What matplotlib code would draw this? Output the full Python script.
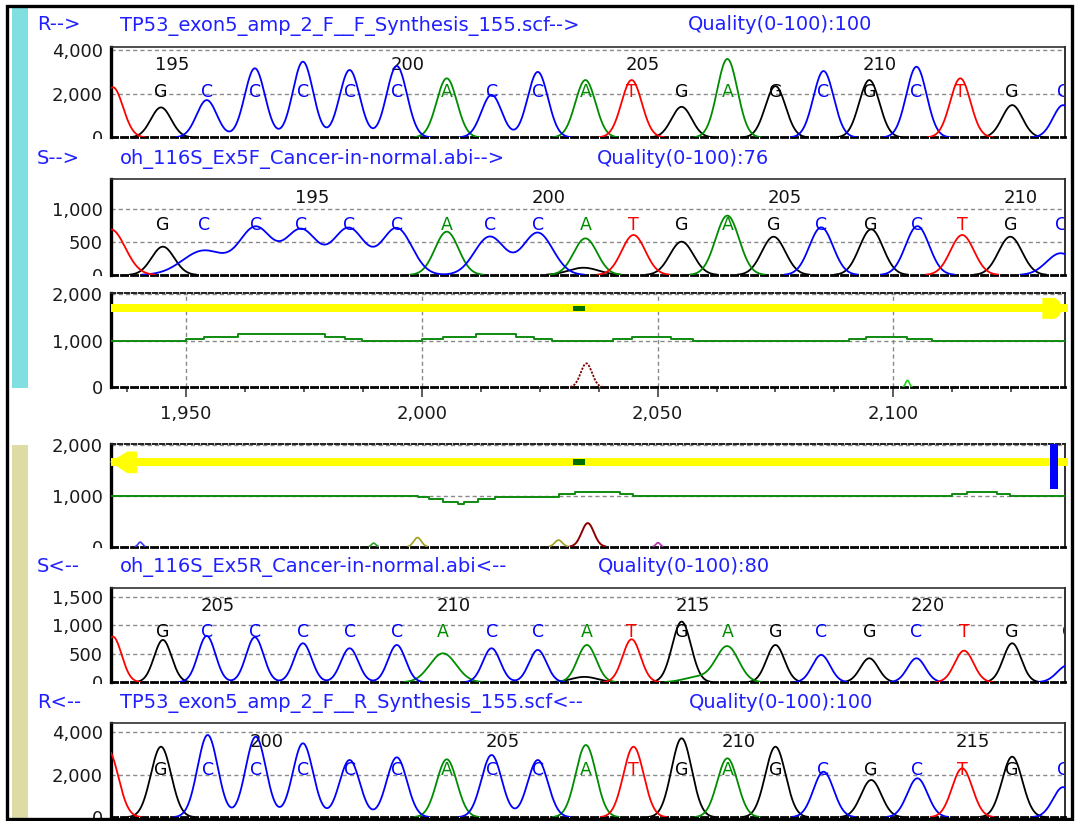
import numpy as np
import matplotlib
matplotlib.use('Agg')
import matplotlib.pyplot as plt
from matplotlib.patches import Polygon, Rectangle
from matplotlib.transforms import Bbox, TransformedBbox
from matplotlib.ticker import FuncFormatter

plt.rcParams['font.family'] = ['DejaVu Sans']

# ---------------- data ----------------
scan_range = (1934.1, 2136.4)
bases = "TGCCCCCACCATGAGCGCTGC"

# panel 1 : R--> reference forward
p1_pos = [1934.5, 1944.7, 1954.4, 1964.6, 1974.8, 1984.7, 1994.7, 2005.3, 2014.8, 2024.6, 2034.7,
          2044.5, 2055.1, 2064.8, 2075.0, 2085.2, 2094.9, 2104.9, 2114.2, 2125.2, 2136.0]
p1_hgt = [2300, 1376, 1711, 3165, 3468, 3087, 3271, 2706, 1950, 3000, 2628,
          2628, 1404, 3592, 2350, 3041, 2628, 3238, 2706, 1482, 1480]
p1_wid = [2.15] * 21
p1_first = 194

# panel 2 : S--> sample forward
p2_pos = [1934.1, 1945.1, 1953.8, 1964.8, 1974.4, 1984.5, 1994.7, 2005.3, 2014.4, 2024.6, 2034.7,
          2044.9, 2055.1, 2064.8, 2074.6, 2084.7, 2095.3, 2105.1, 2114.6, 2124.8, 2135.5]
p2_hgt = [690, 429, 370, 707, 682, 707, 707, 657, 580, 640, 555,
          606, 505, 900, 580, 722, 692, 740, 606, 580, 330]
p2_wid = [3.0, 2.4, 4.5, 3.4, 3.4, 3.4, 3.2, 2.5, 3.2, 3.2, 2.5,
          2.5, 2.5, 2.5, 2.5, 2.5, 2.5, 2.5, 2.5, 2.5, 3.0]
p2_extra = [('G', 2034.3, 110, 3.2)]
p2_first = 191

# panel 3 : forward alignment
p3_green_x = [1934.1, 1950.0, 1953.8, 1961.1, 1979.4, 1983.8, 1987.4, 2000.0, 2004.5, 2011.5, 2019.9,
              2023.9, 2027.7, 2040.5, 2044.5, 2052.8, 2057.5, 2090.6, 2094.3, 2103.0, 2108.1]
p3_green_y = [1000, 1036, 1085, 1135, 1085, 1036, 1000, 1036, 1085, 1135, 1085,
              1036, 1000, 1036, 1085, 1036, 1000, 1036, 1085, 1036, 1000]
p3_arrow_y = 1692
p3_mark_x = 2033.4
p3_diff_pos, p3_diff_hgt, p3_diff_wid = 2034.9, 513, 1.2
p3_small_pos, p3_small_hgt, p3_small_wid = 2103.0, 150, 0.4

# panel 4 : reverse alignment
p4_green_x = [1934.1, 1999.1, 2001.5, 2004.5, 2007.6, 2009.0, 2011.9, 2015.5, 2029.2, 2032.5,
              2042.0, 2044.8, 2112.4, 2115.7, 2121.9, 2124.8]
p4_green_y = [1000, 970, 935, 885, 845, 885, 935, 970, 1045, 1075,
              1045, 1000, 1045, 1075, 1045, 1000]
p4_arrow_y = 1667
p4_mark_x = 2033.4
p4_diff_pos, p4_diff_hgt, p4_diff_wid = 2035.2, 464, 1.3
p4_small_pos = [1940.3, 1989.8, 1999.1, 2029.0, 2050.1]
p4_small_hgt = [90, 70, 180, 130, 80]
p4_small_kind = ['blue', 'green', 'olive', 'olive', 'purple']
p4_bar_x = 2133.3
p4_bar_y = (1130, 2020)

# panel 5 : S<-- sample reverse
p5_pos = [1934.5, 1945.1, 1954.4, 1964.6, 1974.8, 1984.7, 1994.7, 2004.5, 2014.8, 2024.6, 2035.0,
          2044.5, 2055.1, 2064.8, 2075.0, 2084.7, 2094.9, 2104.9, 2115.0, 2125.2, 2137.0]
p5_hgt = [800, 742, 812, 790, 684, 596, 654, 508, 596, 567, 654,
          754, 1063, 625, 654, 479, 421, 421, 554, 684, 300]
p5_wid = [1.85, 1.85, 1.85, 1.85, 1.85, 1.85, 1.85, 2.8, 1.85, 1.85, 2.0,
          1.9, 2.0, 2.4, 1.9, 1.9, 1.9, 1.9, 2.0, 1.9, 2.2]
p5_extra = [('G', 2034.5, 95, 2.8), ('A', 2058.5, 90, 3.0)]
p5_first = 203

# panel 6 : R<-- reference reverse
p6_pos = [1933.5, 1944.7, 1954.6, 1964.8, 1974.8, 1984.7, 1994.7, 2005.3, 2014.8, 2024.6, 2034.8,
          2044.9, 2055.1, 2064.8, 2075.0, 2085.2, 2095.3, 2105.1, 2114.6, 2125.2, 2136.0]
p6_hgt = [3150, 3322, 3873, 3793, 3482, 2696, 2823, 2729, 2932, 2696, 3402,
          3322, 3718, 2776, 3322, 2146, 1755, 1835, 2306, 2852, 1420]
p6_wid = [2.15] * 21
p6_first = 197

headers = [
    ("R-->", "TP53_exon5_amp_2_F__F_Synthesis_155.scf-->", "Quality(0-100):100"),
    ("S-->", "oh_116S_Ex5F_Cancer-in-normal.abi-->", "Quality(0-100):76"),
    ("S<--", "oh_116S_Ex5R_Cancer-in-normal.abi<--", "Quality(0-100):80"),
    ("R<--", "TP53_exon5_amp_2_F__R_Synthesis_155.scf<--", "Quality(0-100):100"),
]

# ---------------- drawing ----------------
W, H = 1078, 821
fig = plt.figure(figsize=(W / 100, H / 100), dpi=100)
fig.patch.set_facecolor('white')

COL = {'A': '#008c00', 'C': '#0000ff', 'G': '#000000', 'T': '#ff0000',
       'blue': '#3a3aff', 'green': '#30a030', 'olive': '#a0a020', 'purple': '#b030b0'}
xs = np.linspace(scan_range[0], scan_range[1], 4000)


def add_ax(top, bot, left=111, right=1065):
    ax = fig.add_axes([left / W, 1 - bot / H, (right - left) / W, (bot - top) / H])
    ax.set_xlim(*scan_range)
    ax.set_facecolor('none')
    return ax, bot


def style(ax, bot, ymax, yticks, top_dashed=False, clip_zero=True):
    ax.set_ylim(0, ymax)
    ax.set_yticks(yticks)
    ax.yaxis.set_major_formatter(FuncFormatter(lambda v, p: f"{v:,.0f}"))
    ax.tick_params(axis='y', length=0, pad=6, labelsize=13, labelcolor='#1a1a1a')
    ax.set_xticks([])
    ax.spines['left'].set_linewidth(2.4)
    ax.spines['left'].set_color('black')
    ax.spines['bottom'].set_linewidth(2.0)
    ax.spines['bottom'].set_color('black')
    ax.spines['bottom'].set_linestyle((0, (2.2, 1.4)))
    ax.spines['right'].set_color('#303030')
    ax.spines['right'].set_linewidth(1.4)
    if top_dashed:
        ax.spines['top'].set_linestyle((0, (2.2, 1.4)))
        ax.spines['top'].set_color('#202020')
        ax.spines['top'].set_linewidth(1.4)
    else:
        ax.spines['top'].set_color('#303030')
        ax.spines['top'].set_linewidth(1.2)
    for v in yticks:
        if v > 0:
            ax.axhline(v, color='#8a8a8a', lw=1.0, ls=(0, (3, 2.2)), zorder=1)
    if clip_zero:
        bb = TransformedBbox(Bbox.from_extents(0, 1 - (bot + 1.5) / H, 1, 1), fig.transFigure)
        for t in ax.yaxis.get_major_ticks():
            t.label1.set_clip_box(bb)
            t.label1.set_clip_on(True)


def peak_sum(centers, heights, widths):
    y = np.zeros_like(xs)
    for p, h, w in zip(centers, heights, widths):
        y += h * np.exp(-0.5 * ((xs - p) / w) ** 2)
    return y


def traces(ax, pos, hgt, wid, ymax, extra=()):
    allp = list(zip(bases, pos, hgt, wid)) + list(extra)
    for b in 'GACT':
        sel = [(p, h, w) for bb, p, h, w in allp if bb == b]
        y = peak_sum([s[0] for s in sel], [s[1] for s in sel], [s[2] for s in sel])
        y = np.where(y > ymax * 0.004, y, np.nan)
        ax.plot(xs, y, color=COL[b], lw=1.3, zorder=3)


def calls(ax, pos, first, yl, yn):
    tr = ax.get_xaxis_transform()
    for i, (b, p) in enumerate(zip(bases, pos)):
        if p < scan_range[0] + 3:
            continue
        ax.text(p, yl, b, transform=tr, color=COL[b], ha='center', va='baseline',
                fontsize=12.5, clip_on=True, zorder=2)
        n = first + i
        if n % 5 == 0:
            ax.text(p + 2.3, yn, str(n), transform=tr, color='#111111', ha='center',
                    va='baseline', fontsize=13, clip_on=True, zorder=2)


# side bars and frame
fig.add_artist(Rectangle((12 / W, 1 - 388 / H), 15.5 / W, 380 / H, transform=fig.transFigure,
                         facecolor='#80dfe0', edgecolor='none'))
fig.add_artist(Rectangle((12 / W, 1 - 819 / H), 15.5 / W, 374 / H, transform=fig.transFigure,
                         facecolor='#dcdca4', edgecolor='none'))
fig.add_artist(Rectangle((7 / W, 1 - 819 / H), 1065 / W, 813 / H, transform=fig.transFigure,
                         facecolor='none', edgecolor='black', lw=2.4))

# headers
hdr_y = [30.5, 164, 571.7, 708.3]
hdr_qx = [687.6, 596.6, 598.3, 689.3]
for (tag, name, qual), yb, qx in zip(headers, hdr_y, hdr_qx):
    for x, s in ((37, tag), (119.5, name), (qx, qual)):
        fig.text(x / W, 1 - yb / H, s, color='#2020ff', fontsize=14, va='baseline', ha='left')

# panel 1
ax1, b1 = add_ax(47, 137.5)
style(ax1, b1, 4140, [0, 2000, 4000])
traces(ax1, p1_pos, p1_hgt, p1_wid, 4140)
calls(ax1, p1_pos, p1_first, 0.45, 0.746)

# panel 2
ax2, b2 = add_ax(179.3, 275)
style(ax2, b2, 1450, [0, 500, 1000])
traces(ax2, p2_pos, p2_hgt, p2_wid, 1450, p2_extra)
calls(ax2, p2_pos, p2_first, 0.47, 0.75)

# panel 3
ax3, b3 = add_ax(292.7, 387.3)
style(ax3, b3, 2028, [0, 1000, 2000], top_dashed=True, clip_zero=False)
ax3.set_xticks([1950, 2000, 2050, 2100])
ax3.set_xticks(np.arange(1937.5, 2136, 12.5), minor=True)
ax3.xaxis.set_major_formatter(FuncFormatter(lambda v, p: f"{v:,.0f}"))
ax3.tick_params(axis='x', which='major', direction='out', length=7, width=1.2, color='#404040',
                labelsize=13, labelcolor='#1a1a1a', pad=6)
ax3.tick_params(axis='x', which='minor', direction='out', length=3.5, width=1.2, color='#404040')
for v in [1950, 2000, 2050, 2100]:
    ax3.axvline(v, color='#8a8a8a', lw=1.0, ls=(0, (3, 2.2)), zorder=1)
ax3.step(p3_green_x + [scan_range[1]], p3_green_y + [p3_green_y[-1]], where='post',
         color='#108a10', lw=1.4, zorder=3)
ax3.add_patch(Rectangle((scan_range[0], p3_arrow_y - 86), 2137.1 - scan_range[0], 172,
                        facecolor='#ffff00', edgecolor='none', zorder=4, clip_on=False))
ax3.add_patch(Polygon([(2131.6, p3_arrow_y + 225), (2134.2, p3_arrow_y + 225), (2135.3, p3_arrow_y + 150),
                       (2135.7, p3_arrow_y), (2135.3, p3_arrow_y - 150), (2134.2, p3_arrow_y - 225),
                       (2131.6, p3_arrow_y - 225)],
                      closed=True, facecolor='#ffff00', edgecolor='none', zorder=4, clip_on=False))
ax3.add_patch(Rectangle((p3_mark_x - 1.25, p3_arrow_y - 55), 2.5, 110, facecolor='#007000',
                        edgecolor='none', zorder=5))
yd = p3_diff_hgt * np.exp(-0.5 * ((xs - p3_diff_pos) / p3_diff_wid) ** 2)
ax3.plot(xs, np.where(yd > 8, yd, np.nan), color='#800000', lw=1.3, ls=(0, (1.2, 0.8)), zorder=3)
ys = p3_small_hgt * np.exp(-0.5 * ((xs - p3_small_pos) / p3_small_wid) ** 2)
ax3.plot(xs, np.where(ys > 8, ys, np.nan), color='#20d020', lw=1.2, zorder=3)

# panel 4
ax4, b4 = add_ax(444, 546.7)
style(ax4, b4, 2020, [0, 1000, 2000], top_dashed=True)
ax4.step(p4_green_x + [scan_range[1]], p4_green_y + [p4_green_y[-1]], where='post',
         color='#108a10', lw=1.4, zorder=3)
ax4.add_patch(Rectangle((scan_range[0], p4_arrow_y - 73), 2137.1 - scan_range[0], 146,
                        facecolor='#ffff00', edgecolor='none', zorder=4, clip_on=False))
ax4.add_patch(Polygon([(scan_range[0] - 0.2, p4_arrow_y), (1937.6, p4_arrow_y + 205),
                       (1939.6, p4_arrow_y + 205), (1939.6, p4_arrow_y - 222),
                       (1937.6, p4_arrow_y - 222)],
                      closed=True, facecolor='#ffff00', edgecolor='none', zorder=4, clip_on=False))
ax4.add_patch(Rectangle((p4_mark_x - 1.25, p4_arrow_y - 55), 2.5, 110, facecolor='#007000',
                        edgecolor='none', zorder=5))
ax4.add_patch(Rectangle((p4_bar_x, p4_bar_y[0]), 1.6, p4_bar_y[1] - p4_bar_y[0],
                        facecolor='#0000ff', edgecolor='none', zorder=5))
yd = p4_diff_hgt * np.exp(-0.5 * ((xs - p4_diff_pos) / p4_diff_wid) ** 2)
ax4.plot(xs, np.where(yd > 8, yd, np.nan), color='#900000', lw=1.4, zorder=3)
for p, h, k in zip(p4_small_pos, p4_small_hgt, p4_small_kind):
    w = 0.8 if k == 'olive' else 0.45
    ys = h * np.exp(-0.5 * ((xs - p) / w) ** 2)
    ax4.plot(xs, np.where(ys > 8, ys, np.nan), color=COL[k], lw=1.2, zorder=3)

# panel 5
ax5, b5 = add_ax(588.3, 682.3)
style(ax5, b5, 1647, [0, 500, 1000, 1500])
traces(ax5, p5_pos, p5_hgt, p5_wid, 1647, p5_extra)
calls(ax5, p5_pos, p5_first, 0.479, 0.758)

# panel 6
ax6, b6 = add_ax(723.3, 817.3)
style(ax6, b6, 4424, [0, 2000, 4000])
traces(ax6, p6_pos, p6_hgt, p6_wid, 4424)
calls(ax6, p6_pos, p6_first, 0.45, 0.751)

fig.savefig('out.png', dpi=100, facecolor='white')
